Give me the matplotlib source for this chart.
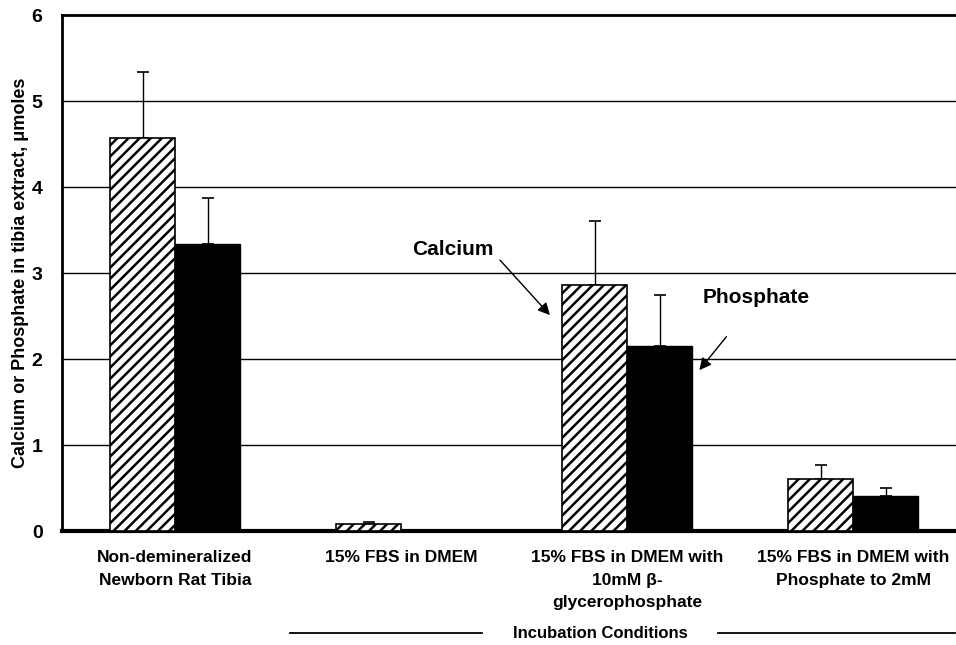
import matplotlib
matplotlib.use("Agg")
import matplotlib.pyplot as plt
import numpy as np
from matplotlib.lines import Line2D

plt.rcParams['font.family'] = ['Liberation Sans', 'DejaVu Sans']
plt.rcParams['hatch.linewidth'] = 1.8

categories = ["Non-demineralized\nNewborn Rat Tibia",
              "15% FBS in DMEM",
              "15% FBS in DMEM with\n10mM \u03b2-\nglycerophosphate",
              "15% FBS in DMEM with\nPhosphate to 2mM"]
calcium = [4.57, 0.08, 2.86, 0.61]
calcium_err = [0.77, 0.03, 0.74, 0.16]
phosphate = [3.34, 0.0, 2.155, 0.41]
phosphate_err = [0.53, 0.0, 0.585, 0.09]
yticks = [0, 1, 2, 3, 4, 5, 6]

fig = plt.figure(figsize=(9.56, 6.45), dpi=100)
ax = fig.add_axes([62/956, 114/645, 904/956, 516/645])

x = np.arange(len(categories))
w = 65/226

ax.bar(x - w/2, calcium, w, color='white', edgecolor='black', hatch='///',
       linewidth=1.2, zorder=3)
ax.bar(x + w/2, phosphate, w, color='black', edgecolor='black',
       linewidth=1.0, zorder=3)
ax.errorbar(x - w/2, calcium, yerr=[np.zeros(len(x)), calcium_err], fmt='none',
            ecolor='black', elinewidth=1.0, capsize=4, capthick=1.2, zorder=2)
pidx = [i for i in range(len(x)) if phosphate_err[i] > 0]
ax.errorbar(x[pidx] + w/2, np.array(phosphate)[pidx],
            yerr=[np.zeros(len(pidx)), np.array(phosphate_err)[pidx]], fmt='none',
            ecolor='black', elinewidth=1.0, capsize=4, capthick=1.2, zorder=2)

ax.set_xlim(-0.5, len(categories) - 0.5)
ax.set_ylim(0, 6)
ax.set_yticks(yticks)
ax.set_yticklabels([str(t) for t in yticks], fontsize=14, fontweight='bold')
ax.set_xticks(x)
ax.set_xticklabels(categories, fontsize=12.5, fontweight='bold', linespacing=1.6)
ax.tick_params(axis='both', length=0)
ax.tick_params(axis='y', pad=14)
ax.tick_params(axis='x', pad=14)

for y in yticks[1:-1]:
    ax.axhline(y, color='black', linewidth=1.0, zorder=1)

ax.spines['left'].set_linewidth(2)
ax.spines['top'].set_linewidth(2)
ax.spines['bottom'].set_linewidth(3)
ax.spines['right'].set_visible(False)

ax.set_ylabel("Calcium or Phosphate in tibia extract, \u03bcmoles", fontsize=13,
              fontweight='bold')
ax.yaxis.set_label_coords(-0.037, 0.5)

ax.text(1.23, 3.27, "Calcium", fontsize=15, fontweight='bold', ha='center', va='center')
ax.annotate("", xy=(1.659, 2.51), xytext=(1.438, 3.15),
            arrowprops=dict(arrowstyle='-|>', color='black', lw=1.0,
                            mutation_scale=18, shrinkA=0, shrinkB=0))
ax.text(2.57, 2.72, "Phosphate", fontsize=15, fontweight='bold', ha='center', va='center')
ax.annotate("", xy=(2.32, 1.87), xytext=(2.44, 2.26),
            arrowprops=dict(arrowstyle='-|>', color='black', lw=1.0,
                            mutation_scale=18, shrinkA=0, shrinkB=0))

fig.text(600/956, 1 - 633/645, "Incubation Conditions", fontsize=12,
         fontweight='bold', ha='center', va='center')
fig.add_artist(Line2D([290/956, 482/956], [1 - 633/645]*2, color='black', lw=1.3))
fig.add_artist(Line2D([718/956, 955/956], [1 - 633/645]*2, color='black', lw=1.3))

fig.savefig("out.png", dpi=100)
